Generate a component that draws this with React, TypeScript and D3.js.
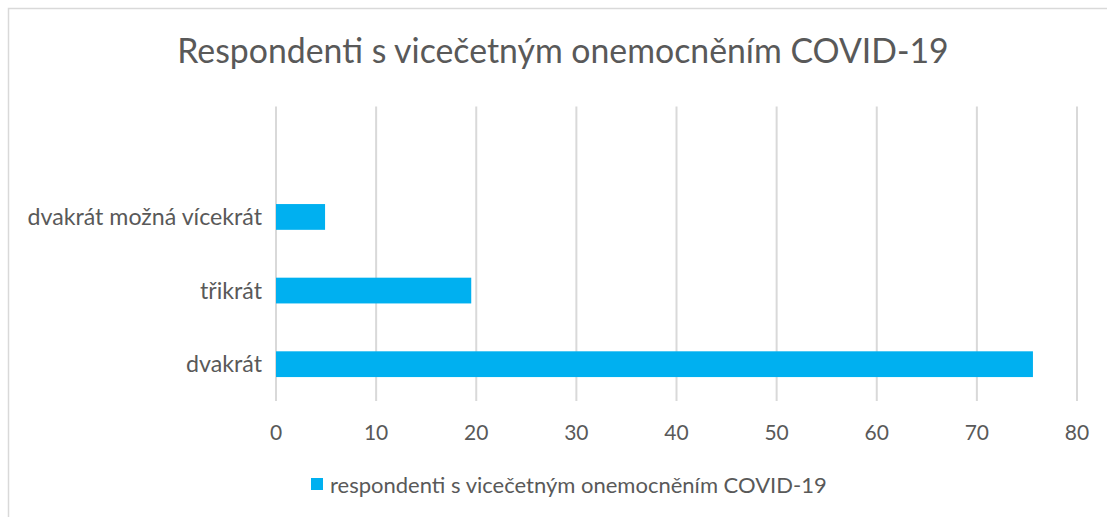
import React from "react";
import * as d3 from "d3";

const categories = ["dvakrát", "třikrát", "dvakrát možná vícekrát", ""];
const values = [75.6, 19.5, 4.9, null];
const xTicks = [0, 10, 20, 30, 40, 50, 60, 70, 80];
const title = "Respondenti s vicečetným onemocněním COVID-19";
const seriesName = "respondenti s vicečetným onemocněním COVID-19";

export default function App() {
  const W = 1107, H = 517;
  const left = 276, right = 1077, top = 106.5, bottom = 401;
  const x = d3.scaleLinear().domain([0, 80]).range([left, right]);
  const y = d3.scaleBand().domain(categories).range([bottom, top]).paddingInner(0.65).paddingOuter(0.325);
  const font = "Lato, 'Open Sans', sans-serif";
  const color = "#00B0F0";
  const text = "#595959";
  return (
    <svg width={W} height={H} style={{ position: "absolute", left: 0, top: 0 }}>
      <rect x={0} y={0} width={W} height={H} fill="#fff" />
      <rect x={8.5} y={8.5} width={W + 20} height={H + 20} fill="none" stroke="#d9d9d9" strokeWidth={1.5} />
      <text x={563} y={63} textAnchor="middle" fontFamily={font} fontSize={33.8} fill={text}>{title}</text>
      {xTicks.map((t) => (
        <line key={t} x1={x(t)} x2={x(t)} y1={top} y2={bottom} stroke="#d9d9d9" strokeWidth={2} />
      ))}
      {categories.map((c, i) =>
        values[i] == null ? null : (
          <rect key={c} x={x(0)} y={y(c)!} width={x(values[i] as number) - x(0)} height={y.bandwidth()} fill={color} />
        )
      )}
      {categories.map((c) => (
        <text key={"l" + c} x={262} y={y(c)! + y.bandwidth() / 2} dy="0.35em" textAnchor="end" fontFamily={font} fontSize={23.2} fill={text}>{c}</text>
      ))}
      {xTicks.map((t) => (
        <text key={"t" + t} x={x(t)} y={440} textAnchor="middle" fontFamily={font} fontSize={21} fill={text}>{t}</text>
      ))}
      <rect x={311} y={478} width={12} height={12} fill={color} />
      <text x={330} y={493} fontFamily={font} fontSize={22} fill={text}>{seriesName}</text>
    </svg>
  );
}
